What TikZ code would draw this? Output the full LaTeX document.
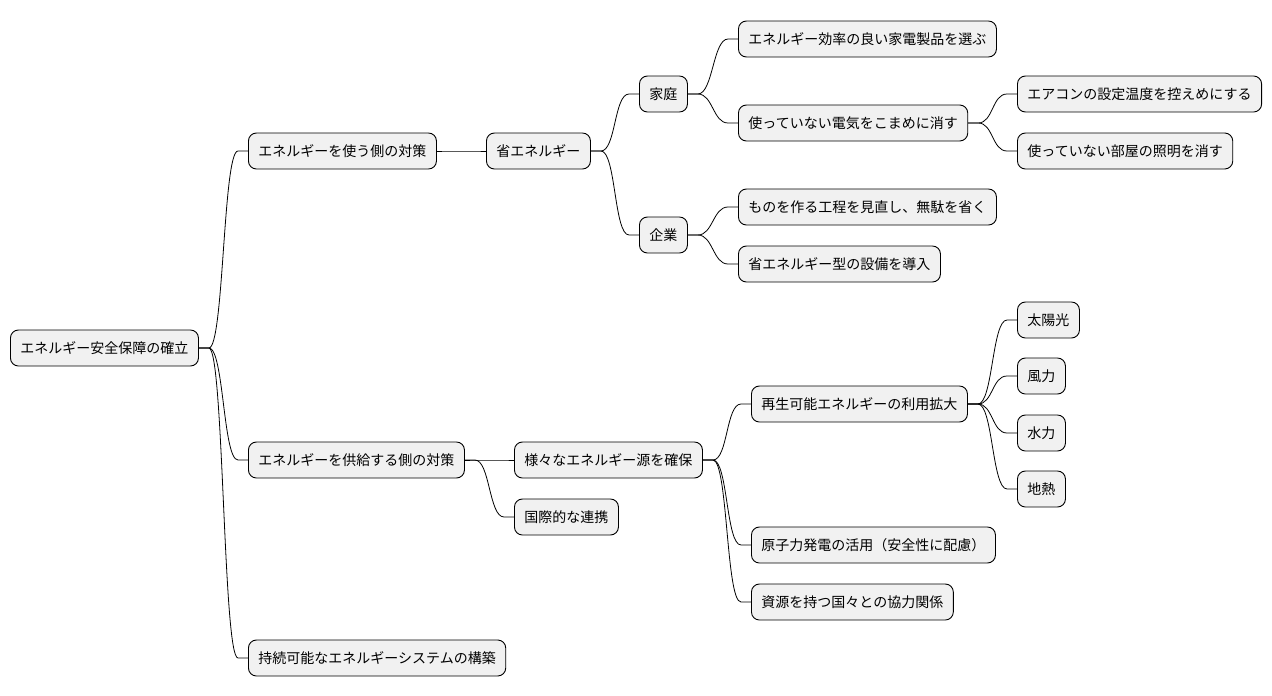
\documentclass[tikz,border=0pt]{standalone}
\usepackage{fontspec}
\setmainfont{Noto Sans CJK JP}
\begin{document}
\begin{tikzpicture}[x=1pt,y=-1pt,
  n/.style={draw=black,line width=0.9pt,fill={rgb,255:red,241;green,241;blue,241},rounded corners=8pt,
    minimum height=36pt,inner xsep=10pt,inner ysep=0pt,anchor=west,font=\fontsize{14pt}{16pt}\selectfont},
  c/.style={draw=black,line width=0.8pt}]
\useasboundingbox (0,0) rectangle (1272,696);
\node[n] (r) at (10,348) {エネルギー安全保障の確立};
\node[n] (a1) at (248,151) {エネルギーを使う側の対策};
\node[n] (s) at (486,151) {省エネルギー};
\node[n] (h) at (639,94) {家庭};
\node[n] (k) at (639,235) {企業};
\node[n] (h1) at (738,39) {エネルギー効率の良い家電製品を選ぶ};
\node[n] (h2) at (738,123) {使っていない電気をこまめに消す};
\node[n] (h2a) at (1017,94) {エアコンの設定温度を控えめにする};
\node[n] (h2b) at (1017,151) {使っていない部屋の照明を消す};
\node[n] (k1) at (738,207) {ものを作る工程を見直し、無駄を省く};
\node[n] (k2) at (738,264) {省エネルギー型の設備を導入};
\node[n] (a2) at (248,460) {エネルギーを供給する側の対策};
\node[n] (m) at (514,460) {様々なエネルギー源を確保};
\node[n] (g) at (514,517) {国際的な連携};
\node[n] (re) at (751,404) {再生可能エネルギーの利用拡大};
\node[n] (t1) at (1017,320) {太陽光};
\node[n] (t2) at (1017,376) {風力};
\node[n] (t3) at (1017,433) {水力};
\node[n] (t4) at (1017,489) {地熱};
\node[n] (nu) at (751,545) {原子力発電の活用（安全性に配慮）};
\node[n] (co) at (751,602) {資源を持つ国々との協力関係};
\node[n] (a3) at (248,658) {持続可能なエネルギーシステムの構築};
\foreach \p/\q in {r/a1,r/a2,r/a3,a1/s,s/h,s/k,h/h1,h/h2,h2/h2a,h2/h2b,k/k1,k/k2,a2/m,a2/g,m/re,m/nu,m/co,re/t1,re/t2,re/t3,re/t4}
  \draw[c] (\p.east) -- ++(10,0) .. controls +(15,0) and +(-15,0) .. ([xshift=-10pt]\q.west) -- (\q.west);
\end{tikzpicture}
\end{document}
